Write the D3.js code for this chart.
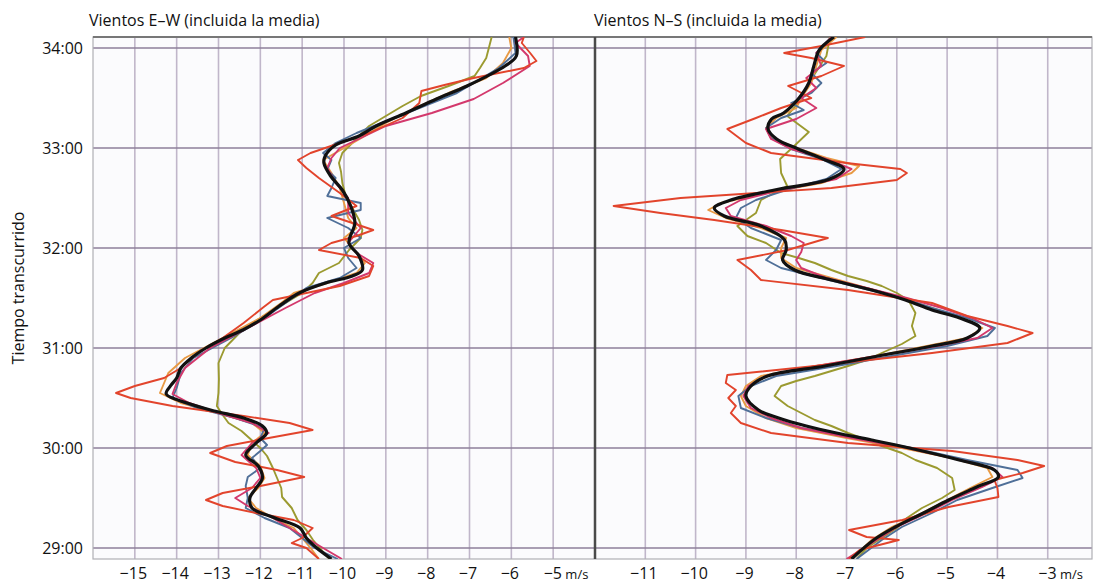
<!DOCTYPE html>
<html>
<head>
<meta charset="utf-8">
<script src="https://cdn.jsdelivr.net/npm/d3@7"></script>
<style>
  body { margin: 0; background: #fff; }
  svg { font-family: "Open Sans", "Noto Sans", sans-serif; }
</style>
</head>
<body>
<div id="chart"></div>
<script>
// minutes shown on the y axis
const minuteTicks = [29, 30, 31, 32, 33, 34];
const ewTicks = [-15, -14, -13, -12, -11, -10, -9, -8, -7, -6, -5];
const nsTicks = [-11, -10, -9, -8, -7, -6, -5, -4, -3];

// E-W winds, [minute, m/s]
const ewMean = [[28.89,-10.3],[29.0,-10.65],[29.1,-10.9],[29.2,-11.05],[29.3,-11.65],[29.4,-12.2],[29.5,-12.25],[29.6,-12.1],[29.7,-11.95],[29.82,-12.05],[29.93,-12.35],[30.05,-12.1],[30.15,-11.85],[30.22,-11.95],[30.3,-12.4],[30.37,-13.1],[30.45,-13.75],[30.54,-14.25],[30.62,-14.15],[30.7,-14.0],[30.8,-13.9],[30.9,-13.65],[31.0,-13.3],[31.1,-12.85],[31.18,-12.42],[31.28,-12.0],[31.42,-11.55],[31.55,-11.07],[31.65,-10.44],[31.72,-9.8],[31.78,-9.56],[31.92,-9.64],[32.05,-9.88],[32.25,-9.74],[32.42,-9.84],[32.58,-10.04],[32.72,-10.32],[32.85,-10.48],[32.92,-10.45],[33.03,-10.2],[33.12,-9.64],[33.22,-9.23],[33.35,-8.52],[33.49,-7.79],[33.62,-7.06],[33.82,-6.15],[33.92,-5.88],[34.11,-5.9]];
const ewRed = [[28.89,-10.6],[29.0,-10.9],[29.05,-11.25],[29.1,-11.0],[29.2,-10.75],[29.28,-11.2],[29.35,-12.1],[29.42,-12.9],[29.48,-13.3],[29.55,-12.9],[29.62,-12.0],[29.71,-10.95],[29.78,-11.6],[29.86,-12.6],[29.95,-13.2],[30.02,-12.8],[30.1,-11.8],[30.18,-10.75],[30.25,-11.3],[30.32,-12.4],[30.42,-14.1],[30.5,-15.1],[30.55,-15.45],[30.62,-15.0],[30.7,-14.3],[30.8,-13.9],[30.95,-13.5],[31.1,-12.9],[31.25,-12.4],[31.4,-11.95],[31.48,-11.7],[31.55,-10.9],[31.62,-10.1],[31.72,-9.4],[31.82,-9.3],[31.9,-9.6],[31.98,-10.6],[32.05,-10.3],[32.12,-9.7],[32.18,-9.3],[32.25,-9.8],[32.32,-10.3],[32.42,-9.7],[32.55,-10.1],[32.7,-10.6],[32.8,-10.9],[32.88,-11.1],[32.95,-10.8],[33.05,-10.1],[33.15,-9.4],[33.3,-8.6],[33.45,-8.2],[33.57,-8.15],[33.63,-7.6],[33.7,-6.9],[33.8,-5.7],[33.87,-5.4],[33.95,-5.55],[34.05,-5.75],[34.11,-5.7]];
const ewPink = [[28.89,-10.05],[29.0,-10.5],[29.1,-10.9],[29.2,-11.3],[29.3,-11.7],[29.42,-12.3],[29.5,-12.6],[29.6,-12.2],[29.7,-12.0],[29.8,-12.1],[29.93,-12.45],[30.05,-12.2],[30.15,-11.8],[30.25,-12.2],[30.35,-13.0],[30.45,-13.7],[30.54,-14.1],[30.65,-14.0],[30.8,-13.8],[31.0,-13.2],[31.2,-12.3],[31.4,-11.4],[31.55,-10.7],[31.65,-10.0],[31.75,-9.4],[31.85,-9.3],[31.95,-9.7],[32.05,-9.9],[32.2,-9.6],[32.35,-9.9],[32.5,-9.9],[32.65,-10.2],[32.8,-10.4],[32.9,-10.3],[33.0,-10.1],[33.1,-9.6],[33.22,-9.0],[33.35,-7.9],[33.49,-6.9],[33.65,-6.2],[33.82,-5.56],[33.92,-5.6],[34.05,-5.9],[34.11,-5.7]];
const ewOrange = [[28.89,-10.6],[29.0,-10.8],[29.1,-11.0],[29.2,-11.2],[29.3,-11.7],[29.4,-12.1],[29.5,-12.3],[29.6,-12.05],[29.7,-11.9],[29.82,-12.0],[29.93,-12.3],[30.05,-12.2],[30.15,-11.9],[30.25,-12.2],[30.35,-13.0],[30.45,-13.9],[30.55,-14.4],[30.65,-14.3],[30.75,-14.2],[30.9,-13.8],[31.1,-12.9],[31.3,-12.0],[31.45,-11.5],[31.55,-11.2],[31.65,-10.4],[31.75,-9.7],[31.85,-9.5],[31.95,-9.7],[32.1,-10.0],[32.2,-9.7],[32.3,-9.9],[32.45,-10.0],[32.6,-10.1],[32.75,-10.3],[32.88,-10.5],[33.0,-10.0],[33.12,-9.5],[33.25,-9.0],[33.4,-8.3],[33.55,-7.5],[33.7,-6.6],[33.85,-6.2],[34.0,-6.0],[34.11,-6.05]];
const ewBlue = [[28.89,-10.15],[29.0,-10.7],[29.1,-11.0],[29.2,-11.3],[29.3,-11.9],[29.4,-12.35],[29.5,-12.3],[29.62,-12.35],[29.71,-12.3],[29.8,-12.0],[29.9,-12.2],[29.97,-12.0],[30.03,-11.84],[30.1,-12.0],[30.2,-11.9],[30.3,-12.6],[30.4,-13.5],[30.5,-14.1],[30.6,-14.0],[30.75,-13.9],[30.9,-13.6],[31.1,-12.7],[31.3,-11.9],[31.45,-11.4],[31.6,-10.9],[31.7,-10.1],[31.8,-9.7],[31.9,-9.9],[32.0,-10.0],[32.1,-9.6],[32.2,-9.9],[32.3,-10.4],[32.38,-9.6],[32.45,-9.6],[32.52,-10.4],[32.6,-10.3],[32.7,-10.2],[32.78,-10.4],[32.88,-10.3],[32.95,-10.5],[33.05,-10.2],[33.15,-9.7],[33.3,-8.8],[33.45,-7.9],[33.55,-7.3],[33.65,-6.9],[33.8,-6.3],[33.95,-5.9],[34.11,-5.95]];
const ewOlive = [[28.89,-10.35],[29.08,-10.74],[29.18,-10.9],[29.28,-11.11],[29.4,-11.25],[29.51,-11.48],[29.6,-11.5],[29.7,-11.6],[29.8,-11.7],[29.92,-11.84],[30.0,-12.0],[30.08,-12.21],[30.17,-12.45],[30.25,-12.76],[30.33,-12.9],[30.42,-13.04],[30.55,-13.0],[30.69,-12.99],[30.85,-13.0],[31.0,-12.85],[31.15,-12.5],[31.3,-12.0],[31.45,-11.4],[31.55,-11.0],[31.65,-10.75],[31.75,-10.6],[31.85,-10.12],[31.98,-9.88],[32.1,-9.6],[32.18,-9.56],[32.28,-9.64],[32.4,-9.8],[32.52,-9.96],[32.65,-10.04],[32.76,-10.07],[32.85,-10.12],[32.95,-10.04],[33.09,-9.71],[33.22,-9.4],[33.32,-9.0],[33.42,-8.6],[33.52,-8.16],[33.62,-7.5],[33.72,-6.88],[33.8,-6.75],[33.9,-6.6],[34.11,-6.47]];

// N-S winds, [minute, m/s]
const nsMean = [[28.89,-6.9],[29.08,-6.46],[29.21,-6.03],[29.35,-5.47],[29.48,-4.97],[29.61,-4.41],[29.71,-3.98],[29.78,-4.06],[29.88,-4.76],[30.0,-5.75],[30.08,-6.5],[30.15,-7.2],[30.22,-7.8],[30.3,-8.35],[30.38,-8.75],[30.52,-9.0],[30.62,-8.9],[30.72,-8.57],[30.82,-7.43],[30.92,-6.37],[31.02,-5.3],[31.1,-4.6],[31.2,-4.35],[31.3,-4.75],[31.38,-5.3],[31.48,-5.83],[31.58,-6.5],[31.68,-7.3],[31.78,-8.03],[31.88,-8.27],[31.98,-8.2],[32.08,-8.23],[32.22,-8.7],[32.32,-9.43],[32.4,-9.63],[32.48,-9.3],[32.58,-8.43],[32.69,-7.33],[32.79,-7.05],[32.89,-7.47],[32.99,-7.96],[33.09,-8.39],[33.19,-8.56],[33.29,-8.49],[33.35,-8.25],[33.49,-7.96],[33.65,-7.75],[33.82,-7.65],[33.98,-7.54],[34.11,-7.25]];
const nsRed = [[28.89,-6.95],[28.98,-6.74],[29.08,-5.96],[29.11,-6.6],[29.18,-6.95],[29.28,-5.89],[29.41,-4.97],[29.51,-3.98],[29.6,-4.0],[29.68,-4.06],[29.75,-3.5],[29.82,-3.07],[29.88,-3.6],[29.97,-4.9],[30.05,-6.97],[30.15,-8.5],[30.25,-9.1],[30.35,-9.3],[30.42,-9.2],[30.5,-9.35],[30.58,-9.2],[30.65,-9.4],[30.73,-9.37],[30.82,-7.63],[30.95,-5.3],[31.05,-3.8],[31.15,-3.3],[31.22,-3.8],[31.32,-4.6],[31.45,-5.3],[31.58,-6.97],[31.68,-8.7],[31.78,-8.9],[31.88,-9.17],[31.98,-8.17],[32.1,-7.37],[32.18,-8.3],[32.28,-9.63],[32.35,-10.7],[32.42,-11.63],[32.5,-10.3],[32.6,-7.3],[32.68,-6.0],[32.75,-5.8],[32.79,-5.93],[32.85,-7.0],[32.95,-8.5],[33.05,-9.0],[33.19,-9.37],[33.3,-8.8],[33.4,-8.3],[33.5,-7.7],[33.62,-8.16],[33.72,-7.5],[33.82,-7.05],[33.9,-7.7],[33.95,-8.24],[34.02,-7.5],[34.11,-6.63]];
const nsPink = [[28.89,-7.0],[29.08,-6.4],[29.21,-6.0],[29.35,-5.4],[29.48,-4.9],[29.61,-4.3],[29.71,-3.9],[29.8,-4.1],[29.9,-4.9],[30.0,-5.8],[30.1,-6.9],[30.2,-7.9],[30.3,-8.5],[30.4,-8.9],[30.52,-9.05],[30.62,-8.95],[30.72,-8.6],[30.82,-7.6],[30.92,-6.4],[31.02,-5.2],[31.1,-4.4],[31.2,-4.1],[31.3,-4.5],[31.4,-5.1],[31.5,-5.8],[31.6,-6.6],[31.7,-7.4],[31.8,-7.9],[31.88,-8.0],[31.96,-7.9],[32.05,-7.85],[32.12,-8.1],[32.22,-8.6],[32.32,-9.3],[32.4,-9.4],[32.48,-9.1],[32.58,-8.3],[32.69,-7.2],[32.79,-6.9],[32.89,-7.4],[32.99,-8.1],[33.09,-8.5],[33.19,-8.6],[33.29,-8.0],[33.4,-7.6],[33.5,-7.9],[33.6,-7.6],[33.7,-7.8],[33.82,-7.5],[33.95,-7.6],[34.11,-7.3]];
const nsOrange = [[28.89,-6.9],[29.08,-6.5],[29.21,-6.1],[29.35,-5.5],[29.48,-5.0],[29.61,-4.5],[29.71,-4.1],[29.8,-4.2],[29.9,-4.9],[30.0,-5.9],[30.1,-7.0],[30.2,-8.0],[30.3,-8.6],[30.42,-9.0],[30.52,-9.1],[30.62,-9.0],[30.72,-8.7],[30.82,-7.6],[30.92,-6.4],[31.02,-5.4],[31.1,-4.6],[31.2,-4.3],[31.3,-4.7],[31.4,-5.3],[31.5,-5.9],[31.6,-6.6],[31.7,-7.3],[31.8,-8.0],[31.9,-8.3],[32.0,-8.3],[32.1,-8.2],[32.2,-8.7],[32.3,-9.4],[32.38,-9.75],[32.45,-9.5],[32.55,-8.6],[32.65,-7.5],[32.75,-6.9],[32.82,-6.75],[32.9,-7.4],[33.0,-8.0],[33.1,-8.5],[33.2,-8.6],[33.3,-8.4],[33.4,-8.0],[33.5,-7.9],[33.65,-7.7],[33.82,-7.6],[33.98,-7.5],[34.11,-7.2]];
const nsBlue = [[28.89,-6.8],[29.08,-6.3],[29.21,-5.9],[29.35,-5.3],[29.48,-4.8],[29.6,-4.1],[29.7,-3.5],[29.78,-3.6],[29.88,-4.6],[30.0,-5.7],[30.1,-6.8],[30.2,-7.9],[30.3,-8.6],[30.4,-9.1],[30.52,-9.15],[30.62,-8.9],[30.72,-8.4],[30.82,-7.2],[30.92,-6.1],[31.02,-5.0],[31.12,-4.2],[31.2,-4.05],[31.3,-4.6],[31.4,-5.3],[31.5,-5.9],[31.6,-6.7],[31.7,-7.5],[31.8,-8.3],[31.88,-8.6],[31.98,-8.4],[32.08,-8.3],[32.2,-8.9],[32.3,-9.2],[32.4,-9.1],[32.48,-8.8],[32.58,-8.2],[32.69,-7.4],[32.79,-7.1],[32.89,-7.5],[32.99,-8.1],[33.1,-8.5],[33.2,-8.6],[33.3,-8.3],[33.38,-7.85],[33.45,-8.1],[33.55,-7.7],[33.65,-7.5],[33.75,-7.7],[33.85,-7.4],[33.95,-7.6],[34.11,-7.3]];
const nsOlive = [[28.89,-6.8],[29.0,-6.6],[29.1,-6.3],[29.2,-6.0],[29.3,-5.8],[29.4,-5.5],[29.5,-5.1],[29.58,-4.85],[29.7,-4.9],[29.8,-5.2],[29.88,-5.63],[29.95,-5.9],[30.02,-6.3],[30.08,-6.6],[30.15,-6.97],[30.22,-7.3],[30.28,-7.63],[30.35,-7.9],[30.42,-8.17],[30.52,-8.43],[30.62,-8.3],[30.67,-8.0],[30.72,-7.63],[30.77,-7.3],[30.82,-6.97],[30.88,-6.6],[30.95,-6.3],[31.04,-5.9],[31.12,-5.63],[31.22,-5.7],[31.35,-5.63],[31.48,-5.77],[31.55,-6.0],[31.62,-6.3],[31.67,-6.6],[31.72,-6.97],[31.78,-7.3],[31.85,-7.63],[31.9,-7.95],[31.95,-8.3],[32.05,-8.6],[32.12,-8.97],[32.22,-9.17],[32.35,-8.8],[32.48,-8.7],[32.62,-8.18],[32.75,-8.3],[32.89,-8.32],[33.02,-8.04],[33.16,-7.75],[33.32,-8.18],[33.49,-7.9],[33.65,-7.75],[33.92,-7.4],[34.11,-7.33]];

const W = 1097, H = 586;
const plotTop = 37, plotBottom = 559, plotLeft = 93, plotMid = 595, plotRight = 1092;

const svg = d3.select('#chart').append('svg')
  .attr('width', W)
  .attr('height', H);

const y = d3.scaleLinear().domain([28.89, 34.11]).range([plotBottom, plotTop]);
const xEW = d3.scaleLinear().domain([-16, -4]).range([plotLeft, plotMid]);
const xNS = d3.scaleLinear().domain([-12, -2.12]).range([plotMid, plotRight]);

// plot background
svg.append('rect')
  .attr('x', plotLeft).attr('y', plotTop)
  .attr('width', plotRight - plotLeft).attr('height', plotBottom - plotTop)
  .attr('fill', '#fbfbfd');

// vertical grid
function vGrid(x, ticks) {
  svg.append('g')
    .selectAll('line')
    .data(ticks)
    .join('line')
    .attr('x1', d => x(d)).attr('x2', d => x(d))
    .attr('y1', plotTop).attr('y2', plotBottom)
    .attr('stroke', '#c0b6ca')
    .attr('stroke-width', 1.6);
}
vGrid(xEW, ewTicks);
vGrid(xNS, nsTicks);

// horizontal grid, one line per minute
svg.append('g')
  .selectAll('line')
  .data(minuteTicks)
  .join('line')
  .attr('x1', plotLeft).attr('x2', plotRight)
  .attr('y1', d => y(d)).attr('y2', d => y(d))
  .attr('stroke', '#8e7f9a')
  .attr('stroke-width', 1.5);

// frame
svg.append('rect')
  .attr('x', plotLeft).attr('y', plotTop)
  .attr('width', plotRight - plotLeft).attr('height', plotBottom - plotTop)
  .attr('fill', 'none')
  .attr('stroke', '#b0b0b5')
  .attr('stroke-width', 1.2);
svg.append('line')
  .attr('x1', plotLeft).attr('x2', plotRight)
  .attr('y1', plotTop).attr('y2', plotTop)
  .attr('stroke', '#777')
  .attr('stroke-width', 2);

// wind traces
const colors = {
  red: '#e2442c',
  pink: '#d3386c',
  orange: '#e89a44',
  blue: '#4f6f98',
  olive: '#9b9a30'
};

function drawPanel(x, series, mean, clipId, x0, x1) {
  svg.append('clipPath').attr('id', clipId)
    .append('rect')
    .attr('x', x0).attr('y', plotTop)
    .attr('width', x1 - x0).attr('height', plotBottom - plotTop);

  const g = svg.append('g').attr('clip-path', `url(#${clipId})`);
  const line = d3.line()
    .x(d => x(d[1]))
    .y(d => y(d[0]));
  const smooth = d3.line()
    .x(d => x(d[1]))
    .y(d => y(d[0]))
    .curve(d3.curveCatmullRom.alpha(0.5));

  series.forEach(s => {
    g.append('path')
      .datum(s.data)
      .attr('d', line)
      .attr('fill', 'none')
      .attr('stroke', s.color)
      .attr('stroke-width', 1.9)
      .attr('stroke-linejoin', 'round');
  });

  g.append('path')
    .datum(mean)
    .attr('d', smooth)
    .attr('fill', 'none')
    .attr('stroke', '#111')
    .attr('stroke-width', 3.2)
    .attr('stroke-linejoin', 'round');
}

drawPanel(xEW, [
  { data: ewOlive, color: colors.olive },
  { data: ewOrange, color: colors.orange },
  { data: ewBlue, color: colors.blue },
  { data: ewPink, color: colors.pink },
  { data: ewRed, color: colors.red }
], ewMean, 'clipEW', plotLeft, plotMid);

drawPanel(xNS, [
  { data: nsOlive, color: colors.olive },
  { data: nsOrange, color: colors.orange },
  { data: nsBlue, color: colors.blue },
  { data: nsPink, color: colors.pink },
  { data: nsRed, color: colors.red }
], nsMean, 'clipNS', plotMid, plotRight);

// panel divider
svg.append('line')
  .attr('x1', plotMid).attr('x2', plotMid)
  .attr('y1', plotTop).attr('y2', plotBottom)
  .attr('stroke', '#4a4a4a')
  .attr('stroke-width', 2.5);

// y axis labels
const fmtMin = d => d + ':00';
svg.append('g')
  .attr('transform', `translate(${plotLeft - 7},0)`)
  .call(d3.axisLeft(y).tickValues(minuteTicks).tickFormat(fmtMin).tickSize(0))
  .call(g => g.select('.domain').remove())
  .selectAll('text')
  .attr('font-size', 16)
  .attr('font-family', '"Open Sans", sans-serif')
  .attr('fill', '#111');

// x axis labels
function xAxis(x, ticks) {
  const last = ticks[ticks.length - 1];
  const ax = svg.append('g')
    .attr('transform', `translate(0,${plotBottom + 6})`)
    .call(d3.axisBottom(x).tickValues(ticks).tickSize(0).tickFormat(d3.format('d')))
    .call(g => g.select('.domain').remove());
  ax.selectAll('text')
    .attr('font-size', 16)
    .attr('font-family', '"Open Sans", sans-serif')
    .attr('fill', '#111')
    .attr('dx', -2);
  ax.selectAll('.tick')
    .filter(d => d === last)
    .select('text')
    .attr('text-anchor', 'start')
    .attr('dx', -10)
    .append('tspan')
    .attr('font-size', 13)
    .text(' m/s');
}
xAxis(xEW, ewTicks);
xAxis(xNS, nsTicks);

// titles
svg.append('text')
  .attr('x', 89).attr('y', 26)
  .attr('font-size', 16)
  .attr('fill', '#111')
  .text('Vientos E\u2013W (incluida la media)');
svg.append('text')
  .attr('x', 594).attr('y', 26)
  .attr('font-size', 16)
  .attr('fill', '#111')
  .text('Vientos N\u2013S (incluida la media)');

svg.append('text')
  .attr('transform', 'translate(24,288) rotate(-90)')
  .attr('text-anchor', 'middle')
  .attr('font-size', 16)
  .attr('fill', '#111')
  .text('Tiempo transcurrido');
</script>
</body>
</html>
